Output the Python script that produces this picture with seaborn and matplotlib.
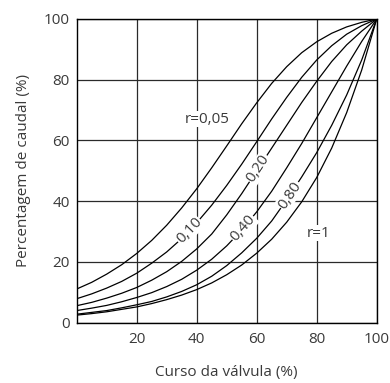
import numpy as np
import pandas as pd
import matplotlib
matplotlib.use('Agg')
import matplotlib.pyplot as plt
import seaborn as sns

# curso da valvula (%) and caudal (%) for each authority r
curso = [0, 5, 10, 15, 20, 25, 30, 35, 40, 45, 50, 55, 60, 65, 70, 75, 80, 85, 90, 95, 100]
r005 = [11.1, 13.3, 16.0, 19.1, 22.8, 27.1, 32.1, 37.8, 44.1, 51.0, 58.2, 65.5, 72.4, 78.8, 84.3, 88.9, 92.5, 95.3, 97.4, 98.9, 100]
r010 = [7.9, 9.5, 11.4, 13.6, 16.3, 19.6, 23.3, 27.7, 32.9, 38.7, 45.2, 52.2, 59.6, 67.1, 74.2, 80.8, 86.5, 91.2, 95.0, 97.8, 100]
r020 = [5.6, 6.7, 8.1, 9.7, 11.6, 14.0, 16.8, 20.2, 24.3, 29.2, 35.5, 42.5, 50.0, 57.5, 65.0, 72.5, 79.5, 86.0, 91.5, 96.0, 100]
r040 = [4.0, 4.8, 5.7, 6.9, 8.3, 9.9, 11.9, 14.3, 17.3, 20.9, 25.3, 30.5, 36.5, 43.3, 51.0, 59.0, 67.5, 76.0, 84.5, 92.6, 100]
r080 = [2.8, 3.4, 4.0, 4.9, 5.9, 7.0, 8.5, 10.3, 12.5, 15.3, 18.8, 23.0, 27.8, 33.5, 40.5, 48.0, 56.0, 65.0, 75.0, 86.5, 100]
r100 = [2.5, 3.0, 3.6, 4.4, 5.2, 6.3, 7.6, 9.1, 10.9, 13.1, 15.8, 19.0, 22.9, 27.5, 33.1, 39.8, 47.8, 57.5, 69.2, 83.2, 100]

curves = [r005, r010, r020, r040, r080, r100]
# inline labels: text, curve index, x position on the curve
inline = [("0,10", 1, 37.5), ("0,20", 2, 60.5), ("0,40", 3, 55.5), ("0,80", 4, 71.0)]

sns.set_style("white")
plt.rcParams['font.family'] = ['Open Sans', 'DejaVu Sans']
txt = '#3a3a3a'
fs = 11

fig = plt.figure(figsize=(3.9, 3.83), dpi=100)
ax = fig.add_axes([0.1967, 0.1574, 0.7692, 0.793])

for c in curves:
    sns.lineplot(x=curso, y=c, color='black', lw=0.9, ax=ax, zorder=3)

ax.set_xlim(0, 100)
ax.set_ylim(0, 100)
ax.set_xticks([20, 40, 60, 80, 100])
ax.set_yticks([0, 20, 40, 60, 80, 100])
ax.grid(True, color='#2a2a2a', lw=0.9)
for s in ax.spines.values():
    s.set_color('black')
    s.set_linewidth(1.0)
ax.tick_params(length=0, labelsize=fs, labelcolor=txt)
ax.tick_params(axis='x', pad=7)
ax.tick_params(axis='y', pad=5)
ax.set_xlabel('Curso da válvula (%)', fontsize=fs, color=txt, labelpad=13)
ax.set_ylabel('Percentagem de caudal (%)', fontsize=fs, color=txt, labelpad=9)

box = dict(facecolor='white', edgecolor='none', pad=0.6)
for lab, i, xp in inline:
    yp = np.interp(xp, curso, curves[i])
    p1 = ax.transData.transform((xp - 2, np.interp(xp - 2, curso, curves[i])))
    p2 = ax.transData.transform((xp + 2, np.interp(xp + 2, curso, curves[i])))
    ang = np.degrees(np.arctan2(p2[1] - p1[1], p2[0] - p1[0]))
    ax.text(xp, yp, lab, rotation=ang, rotation_mode='anchor', ha='center', va='center',
            fontsize=fs, color=txt, bbox=box, zorder=4)

ax.text(43.5, 67, 'r=0,05', ha='center', va='center', fontsize=fs, color=txt, bbox=box, zorder=4)
ax.text(80.5, 29.5, 'r=1', ha='center', va='center', fontsize=fs, color=txt, bbox=box, zorder=4)

fig.savefig('out.png', dpi=100)
